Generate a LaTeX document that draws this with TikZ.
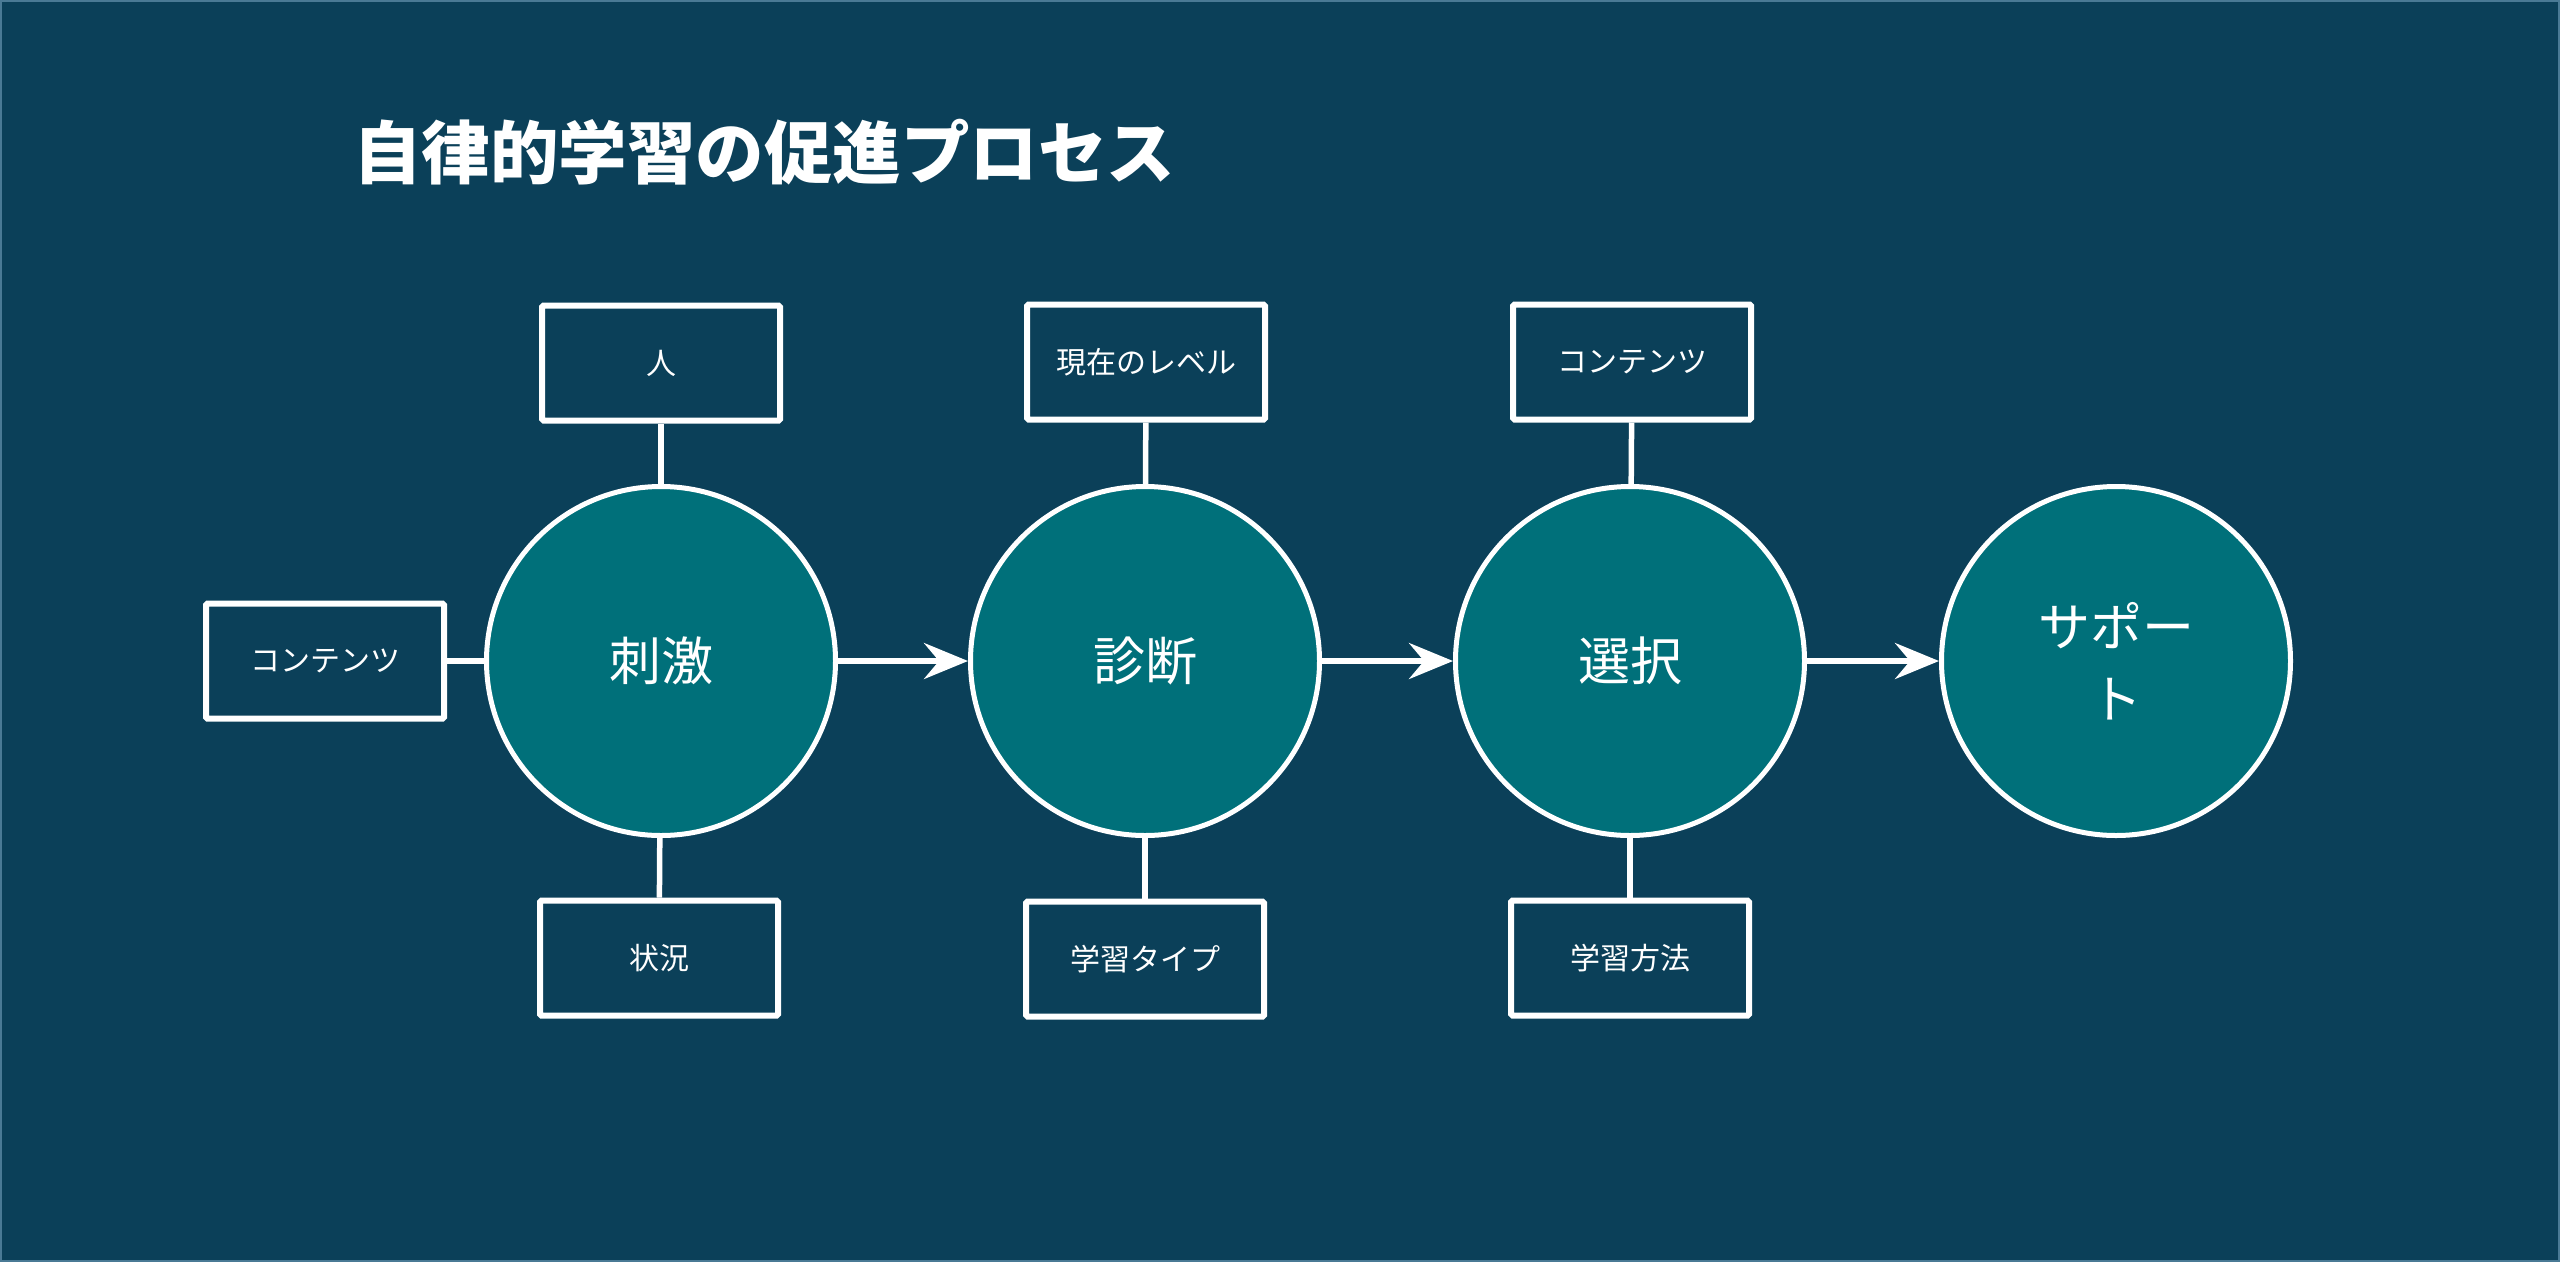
\documentclass[tikz,border=0pt]{standalone}
\usepackage{fontspec}
\setmainfont{Noto Sans CJK JP}
\usetikzlibrary{arrows.meta}
\definecolor{bgc}{HTML}{0B4059}
\definecolor{tealc}{HTML}{00707A}
\definecolor{edgec}{HTML}{4A7A95}
\tikzset{
  stage/.style={circle, draw=white, line width=5pt, fill=tealc, minimum size=349pt, inner sep=0pt,
    text=white, font=\fontsize{52}{72}\selectfont, align=center},
  infobox/.style={rectangle, draw=white, line width=6pt, minimum width=238pt, minimum height=115pt,
    rounded corners=1.5pt, inner sep=0pt, text=white, font=\fontsize{30}{36}\selectfont},
  link/.style={draw=white, line width=5.5pt},
  flow/.style={draw=white, line width=5.5pt, -{Stealth[length=44pt, width=36pt, inset=15pt]}},
}
\begin{document}
\begin{tikzpicture}[x=1pt, y=-1pt]
\useasboundingbox (0,0) rectangle (2560,1262);
\fill[bgc] (0,0) rectangle (2560,1262);
\draw[edgec, line width=2pt] (1,1) rectangle (2559,1261);

\node[anchor=west, inner sep=0pt, text=white, font=\fontsize{68.5}{80}\selectfont\bfseries] (title) at (353,152) {自律的学習の促進プロセス};

\node[stage] (c1) at (661,661) {刺激};
\node[stage] (c2) at (1145,661) {診断};
\node[stage] (c3) at (1630,661) {選択};
\node[stage] (c4) at (2116,661) {サポー\\ト};

\node[infobox] (b1t) at (661,363) {人};
\node[infobox] (b1b) at (659,958) {状況};
\node[infobox] (b1l) at (325,661) {コンテンツ};
\node[infobox] (b2t) at (1146,362) {現在のレベル};
\node[infobox] (b2b) at (1145,959) {学習タイプ};
\node[infobox] (b3t) at (1632,362) {コンテンツ};
\node[infobox] (b3b) at (1630,958) {学習方法};

\draw[link] (b1t) -- (c1);
\draw[link] (b1b) -- (c1);
\draw[link] (b1l) -- (c1);
\draw[link] (b2t) -- (c2);
\draw[link] (b2b) -- (c2);
\draw[link] (b3t) -- (c3);
\draw[link] (b3b) -- (c3);

\draw[flow] (c1) -- (c2);
\draw[flow] (c2) -- (c3);
\draw[flow] (c3) -- (c4);
\end{tikzpicture}
\end{document}
